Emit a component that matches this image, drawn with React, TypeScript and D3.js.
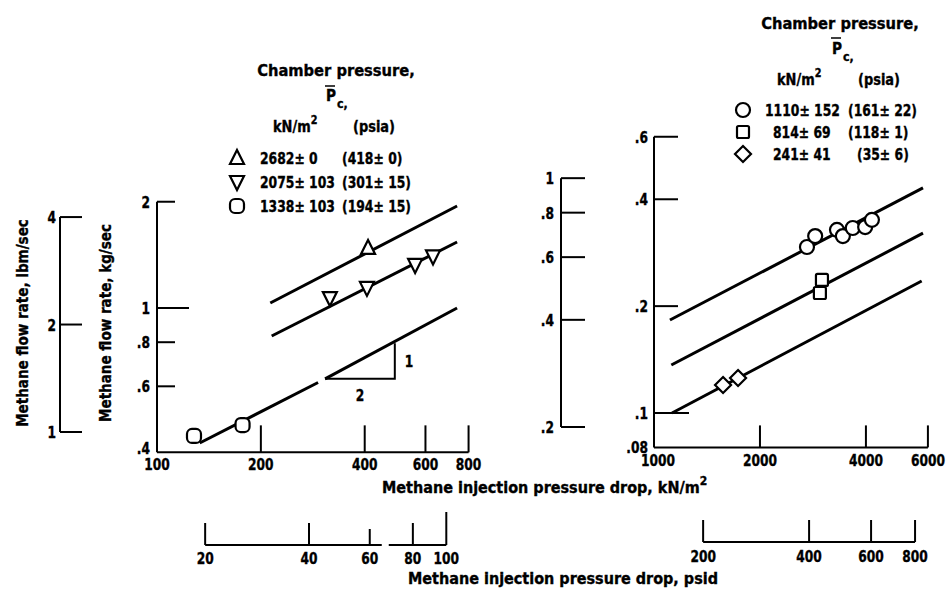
import React from "react";
import * as d3 from "d3";

// left panel: kN/m^2 vs kg/sec
const leftXTicks = [100, 200, 400, 600, 800];
const leftYTicks = [2, 1, 0.8, 0.6, 0.4];
const leftYLabels = ["2", "1", ".8", ".6", ".4"];
const leftLbmTicks = [4, 2, 1];
const leftPsiTicks = [20, 40, 60, 80, 100];

const triUpPts = [[409, 1.48]];
const triDownPts = [[317, 1.067], [406, 1.14], [560, 1.324], [631, 1.4]];
const boxPts = [[128, 0.434], [177, 0.466]];
const fitTriUp = [[213, 1.033], [741, 1.945]];
const fitTriDown = [[215, 0.833], [741, 1.538]];
const fitBoxA = [[133, 0.4146], [293, 0.615]];
const fitBoxB = [[307, 0.63], [741, 1.0]];
const slopeTri = [[307, 0.63], [489, 0.63], [489, 0.795]];

// right panel
const rightXTicks = [1000, 2000, 4000, 6000];
const rightYTicks = [0.6, 0.4, 0.2, 0.1, 0.08];
const rightYLabels = [".6", ".4", ".2", ".1", ".08"];
const rightLbmTicks = [1, 0.8, 0.6, 0.4, 0.2];
const rightLbmLabels = ["1", ".8", ".6", ".4", ".2"];
const rightPsiTicks = [200, 400, 600, 800];

const circlePts = [[2720, 0.2935], [2870, 0.315], [3310, 0.328], [3440, 0.315], [3670, 0.332], [3980, 0.334], [4160, 0.35]];
const squarePts = [[3000, 0.237], [2960, 0.2178]];
const diamondPts = [[1571, 0.1199], [1733, 0.1255]];
const fitCircle = [[1110, 0.1828], [5810, 0.4305]];
const fitSquare = [[1120, 0.1365], [5810, 0.321]];
const fitDiamond = [[1125, 0.1], [5760, 0.2354]];

const leftLegend = [
  ["triUp", "2682\u00b1 0", "(418\u00b1 0)"],
  ["triDown", "2075\u00b1 103", "(301\u00b1 15)"],
  ["box", "1338\u00b1 103", "(194\u00b1 15)"],
];
const rightLegend = [
  ["circle", "1110\u00b1 152", "(161\u00b1 22)"],
  ["square", "814\u00b1 69", "(118\u00b1 1)"],
  ["diamond", "241\u00b1 41", "(35\u00b1 6)"],
];

const PSI = 6.895;
const FONT = "'DejaVu Sans Condensed', 'Liberation Sans Narrow', 'DejaVu Sans', sans-serif";

// condensed bold text, scaled horizontally around its anchor
function T({ x, y, size = 16, sx = 0.85, anchor = "start", rot = 0, children }: any) {
  return (
    <text
      transform={`translate(${x},${y}) rotate(${rot}) scale(${sx},1)`}
      textAnchor={anchor}
      fontFamily={FONT}
      fontWeight={700}
      fontSize={size}
      fill="black"
      stroke="black"
      strokeWidth={0.35}
    >
      {children}
    </text>
  );
}

function Marker({ kind, x, y }: { kind: string; x: number; y: number }) {
  const st = { fill: "white", stroke: "black", strokeWidth: 2.2 };
  const s = 7;
  if (kind === "triUp")
    return <path d={`M${x},${y - s - 1}L${x + s},${y + s - 1}L${x - s},${y + s - 1}Z`} {...st} />;
  if (kind === "triDown")
    return <path d={`M${x - s},${y - s + 1}L${x + s},${y - s + 1}L${x},${y + s + 1}Z`} {...st} />;
  if (kind === "box")
    return <rect x={x - s} y={y - s} width={2 * s} height={2 * s} rx={5} {...st} />;
  if (kind === "square")
    return <rect x={x - 6} y={y - 6} width={12} height={12} rx={1.5} {...st} />;
  if (kind === "diamond")
    return <path d={`M${x},${y - 8}L${x + 8},${y}L${x},${y + 8}L${x - 8},${y}Z`} {...st} />;
  return <circle cx={x} cy={y} r={7} {...st} />;
}

export default function App() {
  const xL = d3.scaleLog().domain([100, 1000]).range([157, 502]);
  const yL = d3.scaleLog().domain([1, 10]).range([308, -45]);
  const yLb = d3.scaleLog().domain([1, 10]).range([432, 75]);
  const xR = d3.scaleLog().domain([1000, 10000]).range([654, 1006]);
  const yR = d3.scaleLog().domain([0.1, 1]).range([413, 58]);
  const yRb = d3.scaleLog().domain([0.2, 2]).range([427, 71]);

  const lineL = d3.line<number[]>().x((d) => xL(d[0])).y((d) => yL(d[1]));
  const lineR = d3.line<number[]>().x((d) => xR(d[0])).y((d) => yR(d[1]));

  const baseL = yL(0.39);
  const baseR = yR(0.08);
  const ink = { stroke: "black", fill: "none" };

  const psiBaseL = 545;
  const psiBaseR = 542;

  return (
    <svg width={947} height={595} style={{ position: "absolute", left: 0, top: 0, background: "white" }}>
      {/* left lbm axis + titles */}
      <g>
        <line x1={60} x2={60} y1={yLb(4)} y2={yLb(1)} {...ink} strokeWidth={2} />
        {leftLbmTicks.map((t) => (
          <g key={t}>
            <line x1={60} x2={82} y1={yLb(t)} y2={yLb(t)} {...ink} strokeWidth={2} />
            <T x={56} y={yLb(t) + 6} anchor="end">{t}</T>
          </g>
        ))}
        <T x={28} y={323} rot={-90} anchor="middle" sx={0.94}>Methane flow rate,  lbm/sec</T>
        <T x={111} y={323} rot={-90} anchor="middle" sx={0.94}>Methane flow rate,  kg/sec</T>
      </g>

      {/* left main axes */}
      <g>
        <line x1={157} x2={157} y1={yL(2)} y2={baseL} {...ink} strokeWidth={2} />
        <line x1={157} x2={xL(800)} y1={baseL} y2={baseL} {...ink} strokeWidth={2} />
        {leftYTicks.map((t, i) => (
          <g key={t}>
            {t !== 0.4 && (
              <line x1={157} x2={t === 1 ? 189 : 175} y1={yL(t)} y2={yL(t)} {...ink} strokeWidth={2} />
            )}
            <T x={150} y={yL(t) + 6} anchor="end">{leftYLabels[i]}</T>
          </g>
        ))}
        {leftXTicks.map((t) => (
          <g key={t}>
            {t !== 100 && <line x1={xL(t)} x2={xL(t)} y1={baseL} y2={baseL - 27} {...ink} strokeWidth={2} />}
            <T x={xL(t)} y={baseL + 18} anchor="middle">{t}</T>
          </g>
        ))}
        {[fitTriUp, fitTriDown, fitBoxA, fitBoxB].map((f, i) => (
          <path key={i} d={lineL(f) || ""} {...ink} strokeWidth={3} />
        ))}
        <path d={lineL(slopeTri) || ""} {...ink} strokeWidth={2} />
        <T x={xL(slopeTri[1][0]) + 10} y={(yL(slopeTri[1][1]) + yL(slopeTri[2][1])) / 2 + 6}>1</T>
        <T x={(xL(slopeTri[0][0]) + xL(slopeTri[1][0])) / 2} y={yL(slopeTri[0][1]) + 22} anchor="middle">2</T>
        {triUpPts.map((d, i) => <Marker key={i} kind="triUp" x={xL(d[0])} y={yL(d[1])} />)}
        {triDownPts.map((d, i) => <Marker key={i} kind="triDown" x={xL(d[0])} y={yL(d[1])} />)}
        {boxPts.map((d, i) => <Marker key={i} kind="box" x={xL(d[0])} y={yL(d[1])} />)}
      </g>

      {/* left legend */}
      <g>
        <T x={336} y={76} anchor="middle" sx={1.02}>Chamber pressure,</T>
        <T x={326} y={101} sx={0.95}>P</T>
        <line x1={325} x2={335} y1={86} y2={86} stroke="black" strokeWidth={1.5} />
        <T x={337} y={108} size={13} sx={0.95}>c,</T>
        <T x={273} y={132} sx={0.9}>
          kN/m<tspan dy={-8} fontSize={12}>2</tspan>
        </T>
        <T x={353} y={132} sx={0.9}>(psia)</T>
        {leftLegend.map((r, i) => (
          <g key={i}>
            <Marker kind={r[0]} x={237} y={158 + i * 24} />
            <T x={260} y={158 + i * 24 + 6} sx={0.86}>{r[1]}</T>
            <T x={342} y={158 + i * 24 + 6} sx={0.86}>{r[2]}</T>
          </g>
        ))}
      </g>

      {/* right lbm axis */}
      <g>
        <line x1={561} x2={561} y1={yRb(1)} y2={yRb(0.2)} {...ink} strokeWidth={2} />
        {rightLbmTicks.map((t, i) => (
          <g key={t}>
            <line x1={561} x2={585} y1={yRb(t)} y2={yRb(t)} {...ink} strokeWidth={2} />
            <T x={554} y={yRb(t) + 6} anchor="end">{rightLbmLabels[i]}</T>
          </g>
        ))}
      </g>

      {/* right main axes */}
      <g>
        <line x1={654} x2={654} y1={yR(0.6)} y2={baseR} {...ink} strokeWidth={2} />
        <line x1={654} x2={xR(6000)} y1={baseR} y2={baseR} {...ink} strokeWidth={2} />
        {rightYTicks.map((t, i) => (
          <g key={t}>
            {t !== 0.08 && (
              <line x1={654} x2={t === 0.1 ? 689 : 678} y1={yR(t)} y2={yR(t)} {...ink} strokeWidth={2} />
            )}
            <T x={648} y={yR(t) + 6} anchor="end">{rightYLabels[i]}</T>
          </g>
        ))}
        {rightXTicks.map((t) => (
          <g key={t}>
            {t !== 1000 && <line x1={xR(t)} x2={xR(t)} y1={baseR} y2={baseR - 22} {...ink} strokeWidth={2} />}
            <T x={xR(t) + (t === 1000 ? 4 : 0)} y={baseR + 19} anchor="middle">{t}</T>
          </g>
        ))}
        {[fitCircle, fitSquare, fitDiamond].map((f, i) => (
          <path key={i} d={lineR(f) || ""} {...ink} strokeWidth={3} />
        ))}
        {circlePts.map((d, i) => <Marker key={i} kind="circle" x={xR(d[0])} y={yR(d[1])} />)}
        {squarePts.map((d, i) => <Marker key={i} kind="square" x={xR(d[0])} y={yR(d[1])} />)}
        {diamondPts.map((d, i) => <Marker key={i} kind="diamond" x={xR(d[0])} y={yR(d[1])} />)}
      </g>

      {/* right legend */}
      <g>
        <T x={840} y={29} anchor="middle" sx={1.02}>Chamber pressure,</T>
        <T x={832} y={54} sx={0.95}>P</T>
        <line x1={831} x2={841} y1={38} y2={38} stroke="black" strokeWidth={1.5} />
        <T x={843} y={61} size={13} sx={0.95}>c,</T>
        <T x={777} y={85} sx={0.9}>
          kN/m<tspan dy={-8} fontSize={12}>2</tspan>
        </T>
        <T x={858} y={85} sx={0.9}>(psia)</T>
        {rightLegend.map((r, i) => (
          <g key={i}>
            <Marker kind={r[0]} x={743} y={110 + i * 22} />
            <T x={i === 0 ? 765 : 773} y={110 + i * 22 + 6} sx={0.86}>{r[1]}</T>
            <T x={i === 2 ? 857 : 848} y={110 + i * 22 + 6} sx={0.86}>{r[2]}</T>
          </g>
        ))}
      </g>

      {/* bottom kN title */}
      <T x={382} y={493} sx={1.0}>
        Methane injection pressure drop,  kN/m<tspan dy={-8} fontSize={12}>2</tspan>
      </T>

      {/* psi axes */}
      <g>
        <line x1={xL(20 * PSI)} x2={xL(60 * PSI) + 12} y1={psiBaseL} y2={psiBaseL} {...ink} strokeWidth={2} />
        <line x1={xL(60 * PSI) + 19} x2={xL(100 * PSI)} y1={psiBaseL} y2={psiBaseL} {...ink} strokeWidth={2} />
        {leftPsiTicks.map((t) => (
          <g key={t}>
            <line x1={xL(t * PSI)} x2={xL(t * PSI)} y1={psiBaseL} y2={psiBaseL - (t === 100 ? 33 : t === 60 ? 16 : 22)} {...ink} strokeWidth={2} />
            <T x={xL(t * PSI)} y={psiBaseL + 19} anchor="middle">{t}</T>
          </g>
        ))}
        <line x1={xR(200 * PSI)} x2={xR(800 * PSI)} y1={psiBaseR} y2={psiBaseR} {...ink} strokeWidth={2} />
        {rightPsiTicks.map((t) => (
          <g key={t}>
            <line x1={xR(t * PSI)} x2={xR(t * PSI)} y1={psiBaseR} y2={psiBaseR - 22} {...ink} strokeWidth={2} />
            <T x={xR(t * PSI)} y={psiBaseR + 20} anchor="middle">{t}</T>
          </g>
        ))}
        <T x={408} y={584} sx={1.0}>Methane injection pressure drop,  psid</T>
      </g>
    </svg>
  );
}
